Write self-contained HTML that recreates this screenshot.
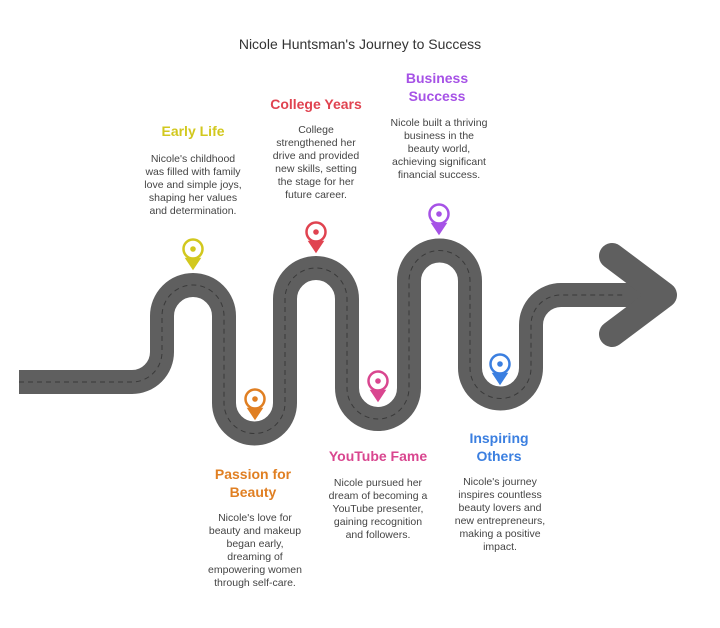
<!DOCTYPE html>
<html><head><meta charset="utf-8"><style>
body{margin:0;background:#fff;width:720px;height:623px;overflow:hidden}
svg text{font-family:"Liberation Sans",sans-serif}
.h{font-size:14px;font-weight:bold;text-anchor:middle}
.b{font-size:10.5px;fill:#444;text-anchor:middle}
</style></head><body>
<svg width="720" height="623" viewBox="0 0 720 623">
<text x="360" y="49" text-anchor="middle" font-size="14" fill="#333">Nicole Huntsman's Journey to Success</text>
<path id="road" d="M19 382 H132 A30 30 0 0 0 162 352 V316 A31 31 0 0 1 224 316 V403 A30.5 30.5 0 0 0 285 403 V299 A31 31 0 0 1 347 299 V388 A31 31 0 0 0 409 388 V281 A30.5 30.5 0 0 1 470 281 V368 A30.5 30.5 0 0 0 531 368 V325 A30 30 0 0 1 561 295 H645" fill="none" stroke="#5f5f5f" stroke-width="24"/>
<path d="M612 256 L664 295 L612 334" fill="none" stroke="#5f5f5f" stroke-width="26" stroke-linecap="round" stroke-linejoin="round"/>
<path d="M19 382 H132 A30 30 0 0 0 162 352 V316 A31 31 0 0 1 224 316 V403 A30.5 30.5 0 0 0 285 403 V299 A31 31 0 0 1 347 299 V388 A31 31 0 0 0 409 388 V281 A30.5 30.5 0 0 1 470 281 V368 A30.5 30.5 0 0 0 531 368 V325 A30 30 0 0 1 561 295 H625" fill="none" stroke="#3a3a3a" stroke-width="1" stroke-dasharray="5 4"/>
<g stroke-width="2.5" fill="#fff">
<g stroke="#d2c81e"><circle cx="193" cy="249" r="9.5"/><path d="M187 259 L199 259 L193 268Z" fill="#d2c81e"/><circle cx="193" cy="249" r="2.8" fill="#d2c81e" stroke="none"/></g>
<g stroke="#e04350"><circle cx="316" cy="232" r="9.5"/><path d="M310 242 L322 242 L316 251Z" fill="#e04350"/><circle cx="316" cy="232" r="2.8" fill="#e04350" stroke="none"/></g>
<g stroke="#a652e6"><circle cx="439" cy="214" r="9.5"/><path d="M433 224 L445 224 L439 233Z" fill="#a652e6"/><circle cx="439" cy="214" r="2.8" fill="#a652e6" stroke="none"/></g>
<g stroke="#e07f22"><circle cx="255" cy="399" r="9.5"/><path d="M249 409 L261 409 L255 418Z" fill="#e07f22"/><circle cx="255" cy="399" r="2.8" fill="#e07f22" stroke="none"/></g>
<g stroke="#d9468f"><circle cx="378" cy="381" r="9.5"/><path d="M372 391 L384 391 L378 400Z" fill="#d9468f"/><circle cx="378" cy="381" r="2.8" fill="#d9468f" stroke="none"/></g>
<g stroke="#3b7fe0"><circle cx="500" cy="364" r="9.5"/><path d="M494 374 L506 374 L500 383Z" fill="#3b7fe0"/><circle cx="500" cy="364" r="2.8" fill="#3b7fe0" stroke="none"/></g>
</g>
<text class="h" x="193" y="136" fill="#d2c81e">Early Life</text>
<text class="b" x="193" y="162">Nicole's childhood</text><text class="b" x="193" y="175">was filled with family</text><text class="b" x="193" y="188">love and simple joys,</text><text class="b" x="193" y="201">shaping her values</text><text class="b" x="193" y="214">and determination.</text>
<text class="h" x="316" y="109" fill="#e04350">College Years</text>
<text class="b" x="316" y="133">College</text><text class="b" x="316" y="146">strengthened her</text><text class="b" x="316" y="159">drive and provided</text><text class="b" x="316" y="172">new skills, setting</text><text class="b" x="316" y="185">the stage for her</text><text class="b" x="316" y="198">future career.</text>
<text class="h" x="437" y="83" fill="#a652e6">Business</text><text class="h" x="437" y="101" fill="#a652e6">Success</text>
<text class="b" x="439" y="126">Nicole built a thriving</text><text class="b" x="439" y="139">business in the</text><text class="b" x="439" y="152">beauty world,</text><text class="b" x="439" y="165">achieving significant</text><text class="b" x="439" y="178">financial success.</text>
<text class="h" x="253" y="479" fill="#e07f22">Passion for</text><text class="h" x="253" y="497" fill="#e07f22">Beauty</text>
<text class="b" x="255" y="521">Nicole's love for</text><text class="b" x="255" y="534">beauty and makeup</text><text class="b" x="255" y="547">began early,</text><text class="b" x="255" y="560">dreaming of</text><text class="b" x="255" y="573">empowering women</text><text class="b" x="255" y="586">through self-care.</text>
<text class="h" x="378" y="461" fill="#d9468f">YouTube Fame</text>
<text class="b" x="378" y="486">Nicole pursued her</text><text class="b" x="378" y="499">dream of becoming a</text><text class="b" x="378" y="512">YouTube presenter,</text><text class="b" x="378" y="525">gaining recognition</text><text class="b" x="378" y="538">and followers.</text>
<text class="h" x="499" y="443" fill="#3b7fe0">Inspiring</text><text class="h" x="499" y="461" fill="#3b7fe0">Others</text>
<text class="b" x="500" y="485">Nicole's journey</text><text class="b" x="500" y="498">inspires countless</text><text class="b" x="500" y="511">beauty lovers and</text><text class="b" x="500" y="524">new entrepreneurs,</text><text class="b" x="500" y="537">making a positive</text><text class="b" x="500" y="550">impact.</text>
</svg>
</body></html>
